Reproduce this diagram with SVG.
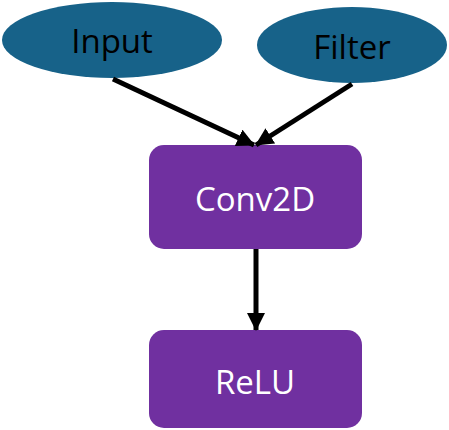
<svg xmlns="http://www.w3.org/2000/svg" width="449" height="430" viewBox="0 0 449 430">
  <style>
    .src { fill: #176289; }
    .op { fill: #7030A0; }
    .lbl { font-family: "Open Sans", "Liberation Sans", sans-serif; font-size: 33px; text-anchor: middle; }
    .dark { fill: #000000; }
    .light { fill: #FFFFFF; }
    .edge { stroke: #000000; stroke-width: 5; fill: none; marker-end: url(#arrow); }
  </style>
  <defs>
    <marker id="arrow" markerUnits="userSpaceOnUse" markerWidth="18" markerHeight="18" viewBox="0 0 18 18" refX="17" refY="9" orient="auto">
      <path d="M0,0 L18,9 L0,18 Z" fill="#000000"/>
    </marker>
  </defs>
  <rect width="449" height="430" fill="#FFFFFF"/>
  <g id="input">
    <ellipse class="src" cx="112" cy="40" rx="110" ry="38"/>
    <text class="lbl dark" x="112" y="53">Input</text>
  </g>
  <g id="filter">
    <ellipse class="src" cx="352" cy="45" rx="95" ry="38"/>
    <text class="lbl dark" x="352" y="59">Filter</text>
  </g>
  <g id="conv2d">
    <rect class="op" x="149" y="145" width="213" height="104" rx="15"/>
    <text class="lbl light" x="255" y="211">Conv2D</text>
  </g>
  <g id="relu">
    <rect class="op" x="149" y="330" width="213" height="98" rx="15"/>
    <text class="lbl light" x="255" y="394">ReLU</text>
  </g>
  <g id="connectors">
    <line class="edge" x1="113" y1="79" x2="254" y2="145"/>
    <line class="edge" x1="352" y1="84" x2="256" y2="145"/>
    <line class="edge" x1="256" y1="249" x2="256" y2="330"/>
  </g>
</svg>
